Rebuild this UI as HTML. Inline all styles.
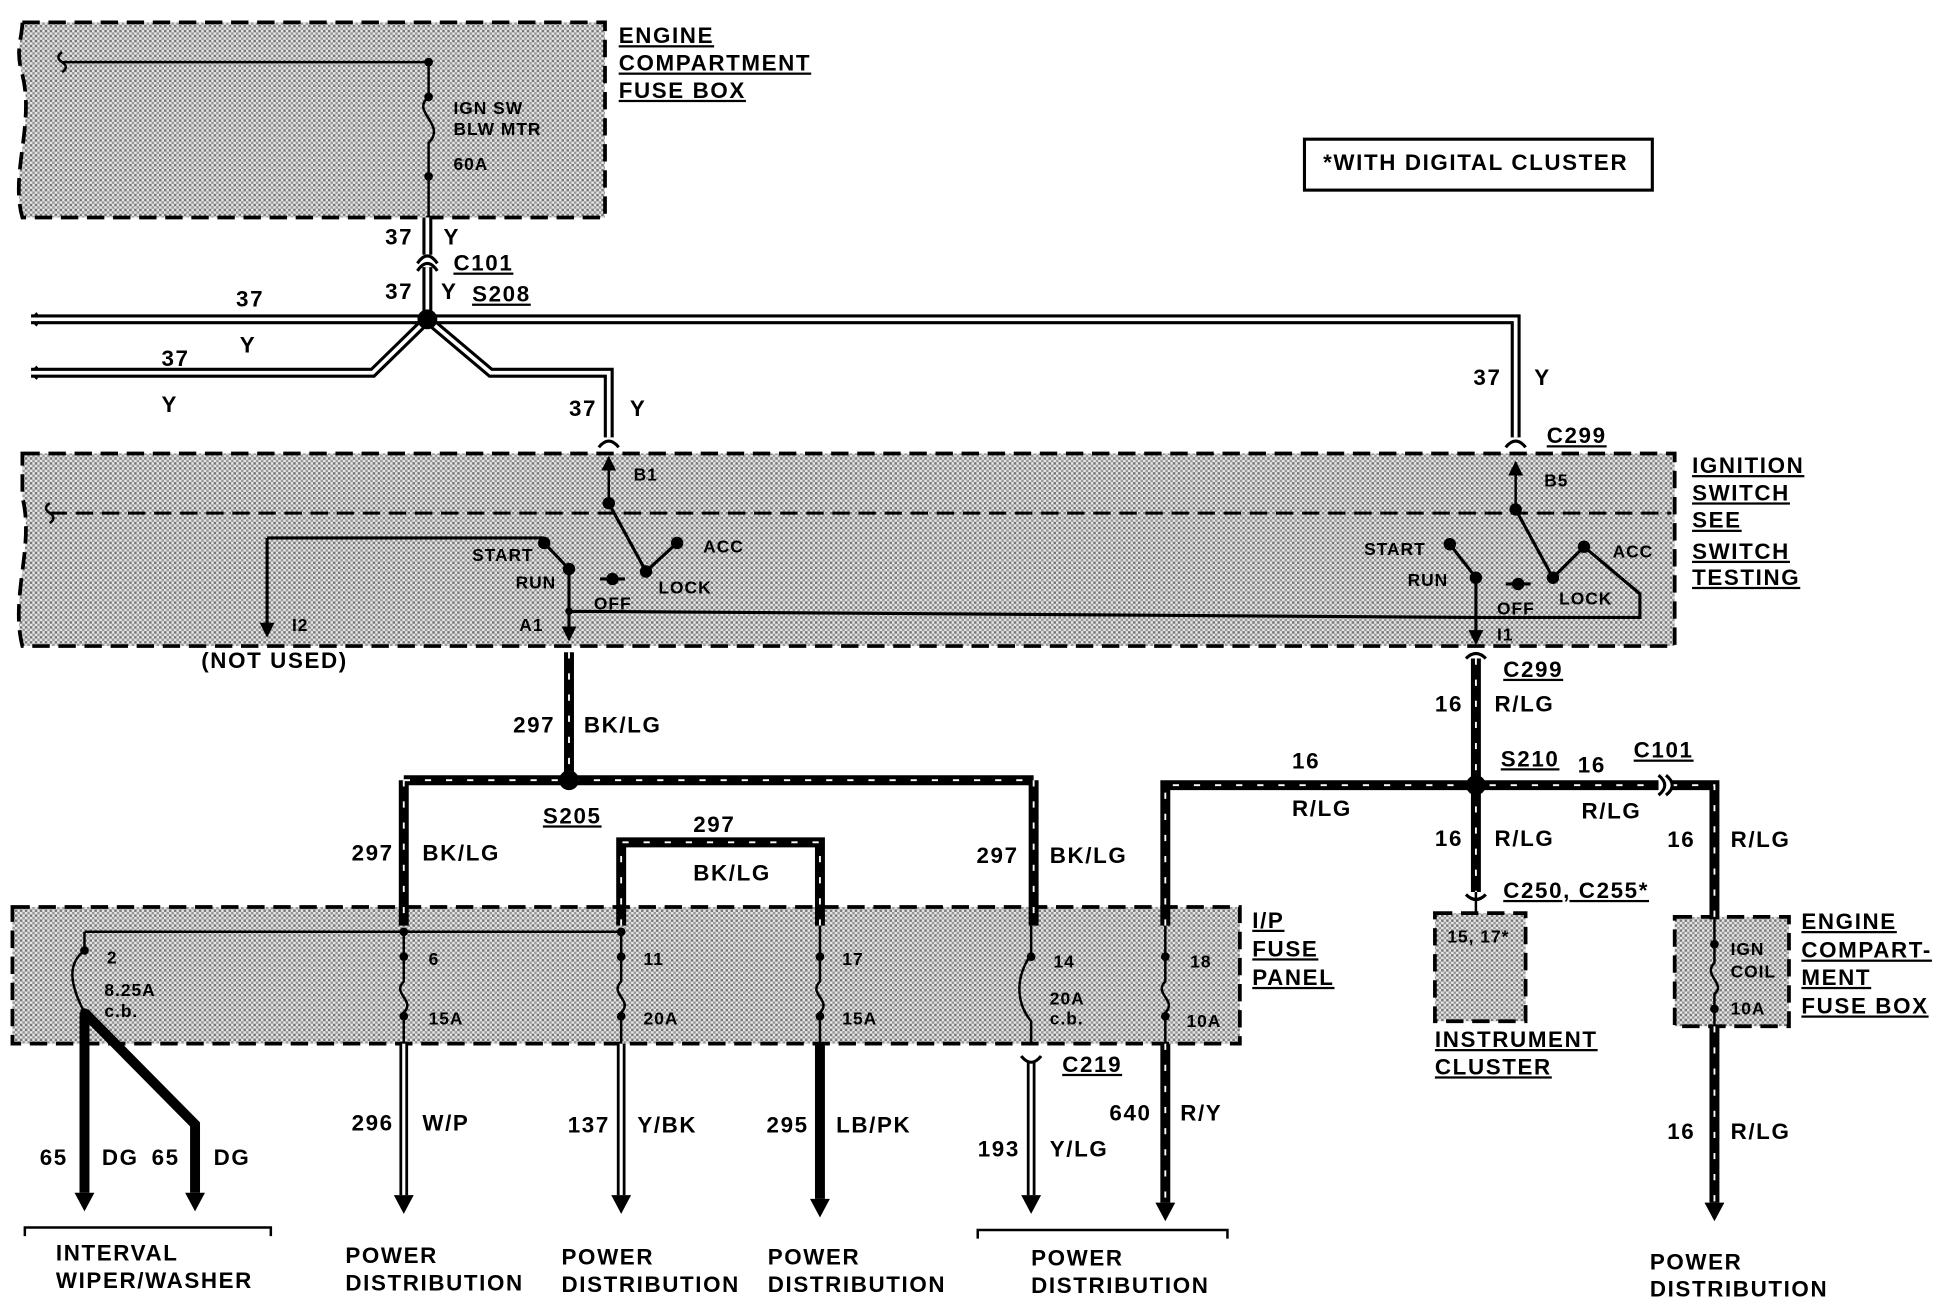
<!DOCTYPE html>
<html><head><meta charset="utf-8"><style>
html,body{margin:0;padding:0;background:#fff;}
svg{display:block;}
text{font-family:"Liberation Sans",Arial,sans-serif;font-weight:bold;font-size:18px;letter-spacing:1.3px;fill:#000;dominant-baseline:middle;}
.s{font-size:14px;letter-spacing:0.8px;}
</style></head><body>
<svg width="1948" height="1312" viewBox="0 0 1568 1056" xmlns="http://www.w3.org/2000/svg">
<defs>
<pattern id="dot" width="4" height="4" patternUnits="userSpaceOnUse">
<rect width="4" height="4" fill="#e6e6e6"/><rect width="2" height="2" fill="#777"/><rect x="2" y="2" width="2" height="2" fill="#999"/>
</pattern>
<marker id="ar" viewBox="0 0 10 10" refX="9" refY="5" markerWidth="6" markerHeight="6" orient="auto"><path d="M0,0 L10,5 L0,10 z" fill="#000"/></marker>
</defs>
<g fill="url(#dot)" stroke="#000" stroke-width="3" stroke-dasharray="14,7">
<path d="M18,18 H487 V175 H18 C8,140 28,100 18,60 C12,40 18,30 18,18 Z"/>
<path d="M18,365 H1348 V520 H18 C8,480 28,440 18,400 Z"/>
<rect x="10" y="730" width="988" height="110"/>
<rect x="1155" y="735" width="73" height="87"/>
<rect x="1348" y="738" width="92" height="88"/>
</g>
<line x1="40" y1="413" x2="1345" y2="413" stroke="#000" stroke-width="2.5" stroke-dasharray="14,7"/>
<rect x="1050" y="112" width="280" height="41" fill="none" stroke="#000" stroke-width="2.5"/>
<text x="1065" y="132">*WITH DIGITAL CLUSTER</text>

<g fill="none" stroke="#000" stroke-width="2">
<path d="M50,50 H345 V78 C330,90 360,100 345,115 V175"/>
<path d="M50,42 q-6,4 0,8 q6,4 0,8 M30,252 q-6,5 0,10 M30,295 q-6,5 0,10 M40,405 q-6,4 0,8 q6,4 0,8"/>
<g stroke-width="8"><path d="M344,175 V205 M344,215 V257 M344,257 H25 M344,257 L300,300 H25 M344,257 L395,300 H490 V352 M344,257 H1220 V352"/></g>
<g stroke="#fff" stroke-width="3"><path d="M344,175 V205 M344,215 V257 M344,257 H25 M344,257 L300,300 H25 M344,257 L395,300 H490 V352 M344,257 H1220 V352"/></g>
<path d="M336,212 Q344,200 352,212 M336,218 Q344,206 352,218" stroke-width="2.5"/>
<path d="M482,360 Q490,350 498,360 M1212,360 Q1220,350 1228,360" stroke-width="2.5"/>
<path d="M490,405 V368" marker-end="url(#ar)"/>
<path d="M490,405 L520,460 M520,460 L545,437 M438,437 L458,458 M483,466 H503 M458,458 V512 M458,492 L1188,497 M215,433 H438 M215,433 V508" stroke-width="2.5"/>
<path d="M458,500 V515" marker-end="url(#ar)"/>
<path d="M215,495 V512" marker-end="url(#ar)"/>
<path d="M1220,410 V372" marker-end="url(#ar)"/>
<path d="M1220,410 L1250,465 M1250,465 L1275,440 L1320,478 V497 H1188 M1167,438 L1188,465 M1212,470 H1232 M1188,465 V512" stroke-width="2.5"/>
<path d="M1188,500 V518" marker-end="url(#ar)"/>
<g stroke-width="8">
<path d="M458,525 V628 M325,628 H832 M325,628 V745 M832,628 V745 M500,745 V678 H660 V745"/>
<path d="M1188,530 V718 M938,745 V632 H1335 M1345,632 H1380 V740"/>
<path d="M660,840 V965 M938,840 V968 M1380,826 V968 M68,815 V960 M68,815 L157,905 V960"/>
</g>
<g stroke="#fff" stroke-width="1.5" stroke-dasharray="5,12">
<path d="M458,525 V628 M325,628 H832 M325,628 V745 M832,628 V745 M500,745 V678 H660 V745 M1188,530 V718 M938,745 V632 H1335 M1345,632 H1380 V740 M938,840 V968 M1380,826 V968"/>
</g>
<path d="M1180,530 Q1188,522 1196,530 M1180,720 Q1188,728 1196,720 M1335,624 Q1345,632 1335,640 M1341,624 Q1351,632 1341,640" stroke-width="2.5"/>
<g stroke-width="7"><path d="M325,840 V962 M500,840 V962 M830,855 V962"/></g>
<g stroke="#fff" stroke-width="2.5"><path d="M325,840 V962 M500,840 V962 M830,855 V962"/></g>
<path d="M822,850 Q830,860 838,850" stroke-width="2.5"/>
<path d="M68,750 H500 M68,750 V765 C55,775 55,790 68,815 M325,750 V790 C315,800 335,805 325,815 V840 M500,750 V790 C490,800 510,805 500,815 V840 M660,745 V790 C650,800 670,805 660,815 V840 M830,745 V768 C815,790 820,810 830,822 V840 M938,745 V790 C928,800 948,805 938,815 V840" stroke-width="2"/>
<path d="M1380,740 V775 C1370,785 1390,792 1380,800 V826 M1188,718 V735"/>
<path d="M20,995 V988 H218 V995 M787,997 V990 H988 V997" stroke-width="2"/>
</g>
<g fill="#000">
<path d="M60,960 H76 L68,975 Z M149,960 H165 L157,975 Z M317,962 H333 L325,977 Z M492,962 H508 L500,977 Z M652,965 H668 L660,980 Z M822,962 H838 L830,977 Z M930,968 H946 L938,983 Z M1372,968 H1388 L1380,983 Z"/>
</g>
<g fill="#000">
<circle cx="345" cy="50" r="3.5"/><circle cx="345" cy="78" r="3.5"/><circle cx="345" cy="142" r="3.5"/>
<circle cx="344" cy="257" r="8"/><circle cx="458" cy="628" r="8"/><circle cx="1188" cy="632" r="8"/>
<circle cx="490" cy="405" r="5"/><circle cx="520" cy="460" r="5"/><circle cx="545" cy="437" r="5"/><circle cx="493" cy="466" r="5"/><circle cx="458" cy="458" r="5"/><circle cx="438" cy="437" r="5"/><circle cx="458" cy="492" r="3"/>
<circle cx="1220" cy="410" r="5"/><circle cx="1250" cy="465" r="5"/><circle cx="1275" cy="440" r="5"/><circle cx="1222" cy="470" r="5"/><circle cx="1188" cy="465" r="5"/><circle cx="1167" cy="438" r="5"/>
<circle cx="68" cy="765" r="3.5"/><circle cx="68" cy="815" r="3.5"/>
<circle cx="325" cy="750" r="3.5"/><circle cx="325" cy="770" r="3.5"/><circle cx="325" cy="818" r="3.5"/>
<circle cx="500" cy="750" r="3.5"/><circle cx="500" cy="770" r="3.5"/><circle cx="500" cy="818" r="3.5"/>
<circle cx="660" cy="770" r="3.5"/><circle cx="660" cy="818" r="3.5"/>
<circle cx="830" cy="770" r="3.5"/><circle cx="938" cy="770" r="3.5"/><circle cx="938" cy="818" r="3.5"/>
<circle cx="1380" cy="760" r="3.5"/><circle cx="1380" cy="812" r="3.5"/>
</g>
<g text-decoration="underline">
<text x="498" y="30">ENGINE</text><text x="498" y="52">COMPARTMENT</text><text x="498" y="74">FUSE BOX</text>
<text x="365" y="213">C101</text><text x="380" y="238">S208</text><text x="1245" y="352">C299</text>
<text x="1362" y="376">IGNITION</text><text x="1362" y="398">SWITCH</text><text x="1362" y="420">SEE</text><text x="1362" y="445">SWITCH</text><text x="1362" y="466">TESTING</text>
<text x="1210" y="540">C299</text><text x="437" y="658">S205</text><text x="1208" y="612">S210</text><text x="1315" y="605">C101</text>
<text x="1210" y="718">C250, C255*</text>
<text x="1008" y="742">I/P</text><text x="1008" y="765">FUSE</text><text x="1008" y="788">PANEL</text>
<text x="1155" y="838">INSTRUMENT</text><text x="1155" y="860">CLUSTER</text>
<text x="1450" y="743">ENGINE</text><text x="1450" y="766">COMPART-</text><text x="1450" y="788">MENT</text><text x="1450" y="811">FUSE BOX</text>
<text x="855" y="858">C219</text>
</g>
<text class="s" x="365" y="88">IGN SW</text><text class="s" x="365" y="105">BLW MTR</text><text class="s" x="365" y="133">60A</text>
<text x="310" y="192">37</text><text x="357" y="192">Y</text><text x="310" y="236">37</text><text x="355" y="236">Y</text>
<text x="190" y="242">37</text><text x="193" y="279">Y</text><text x="130" y="290">37</text><text x="130" y="327">Y</text>
<text x="458" y="330">37</text><text x="507" y="330">Y</text><text x="1186" y="305">37</text><text x="1235" y="305">Y</text>
<text class="s" x="510" y="383">B1</text><text class="s" x="1243" y="388">B5</text>
<text class="s" x="566" y="441">ACC</text><text class="s" x="530" y="474">LOCK</text><text class="s" x="478" y="487">OFF</text><text class="s" x="415" y="470">RUN</text><text class="s" x="380" y="448">START</text><text class="s" x="418" y="504">A1</text><text class="s" x="235" y="504">I2</text>
<text class="s" x="1298" y="445">ACC</text><text class="s" x="1255" y="483">LOCK</text><text class="s" x="1205" y="491">OFF</text><text class="s" x="1133" y="468">RUN</text><text class="s" x="1098" y="443">START</text><text class="s" x="1205" y="512">I1</text>
<text x="162" y="533">(NOT USED)</text>
<text x="413" y="585">297</text><text x="470" y="585">BK/LG</text>
<text x="283" y="688">297</text><text x="340" y="688">BK/LG</text><text x="558" y="665">297</text><text x="558" y="704">BK/LG</text><text x="786" y="690">297</text><text x="845" y="690">BK/LG</text>
<text x="1155" y="568">16</text><text x="1203" y="568">R/LG</text><text x="1040" y="614">16</text><text x="1040" y="652">R/LG</text><text x="1270" y="617">16</text><text x="1273" y="654">R/LG</text>
<text x="1155" y="676">16</text><text x="1203" y="676">R/LG</text><text x="1342" y="677">16</text><text x="1393" y="677">R/LG</text>
<text class="s" x="86" y="772">2</text><text class="s" x="84" y="798">8.25A</text><text class="s" x="84" y="815">c.b.</text>
<text class="s" x="345" y="773">6</text><text class="s" x="345" y="821">15A</text>
<text class="s" x="518" y="773">11</text><text class="s" x="518" y="821">20A</text>
<text class="s" x="678" y="773">17</text><text class="s" x="678" y="821">15A</text>
<text class="s" x="848" y="775">14</text><text class="s" x="845" y="805">20A</text><text class="s" x="845" y="821">c.b.</text>
<text class="s" x="958" y="775">18</text><text class="s" x="955" y="823">10A</text>
<text class="s" x="1165" y="755">15, 17*</text>
<text class="s" x="1393" y="765">IGN</text><text class="s" x="1393" y="783">COIL</text><text class="s" x="1393" y="813">10A</text>
<text x="32" y="933">65</text><text x="82" y="933">DG</text><text x="122" y="933">65</text><text x="172" y="933">DG</text>
<text x="283" y="905">296</text><text x="340" y="905">W/P</text><text x="457" y="907">137</text><text x="513" y="907">Y/BK</text>
<text x="617" y="907">295</text><text x="673" y="907">LB/PK</text><text x="787" y="926">193</text><text x="845" y="926">Y/LG</text>
<text x="893" y="897">640</text><text x="950" y="897">R/Y</text><text x="1342" y="912">16</text><text x="1393" y="912">R/LG</text>
<text x="45" y="1010">INTERVAL</text><text x="45" y="1032">WIPER/WASHER</text>
<text x="278" y="1012">POWER</text><text x="278" y="1034">DISTRIBUTION</text>
<text x="452" y="1013">POWER</text><text x="452" y="1035">DISTRIBUTION</text>
<text x="618" y="1013">POWER</text><text x="618" y="1035">DISTRIBUTION</text>
<text x="830" y="1014">POWER</text><text x="830" y="1036">DISTRIBUTION</text>
<text x="1328" y="1017">POWER</text><text x="1328" y="1039">DISTRIBUTION</text>
</svg>
</body></html>
